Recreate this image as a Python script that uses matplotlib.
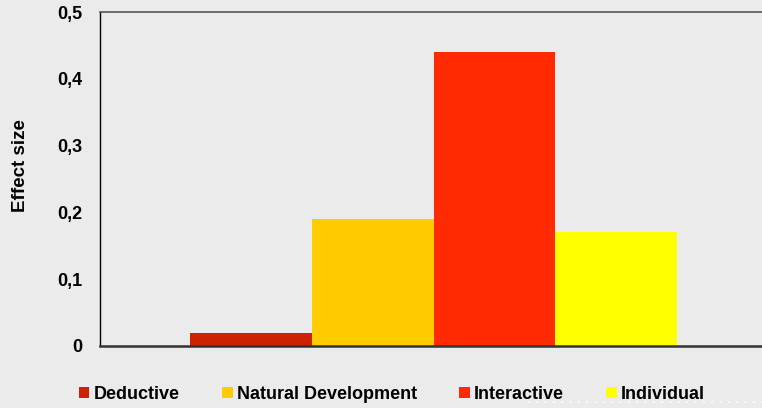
import matplotlib.pyplot as plt
from matplotlib.lines import Line2D
from matplotlib.ticker import FuncFormatter

# Effect sizes by instruction type
series = ['Deductive', 'Natural Development', 'Interactive', 'Individual']
effect_size = [0.02, 0.19, 0.44, 0.17]
colors = ['#CC2200', '#FFCC00', '#FF2A00', '#FFFF00']
yticks = [0, 0.1, 0.2, 0.3, 0.4, 0.5]

plt.rcParams['font.family'] = ['Liberation Sans', 'DejaVu Sans']
bg = '#EBEBEB'

fig = plt.figure(figsize=(7.62, 4.08), dpi=100, facecolor=bg)
ax = fig.add_axes([100 / 762, 62 / 408, 667 / 762, 334 / 408], facecolor=bg)

width = 0.1823
offsets = [-1.5, -0.5, 0.5, 1.5]
for name, val, c, off in zip(series, effect_size, colors, offsets):
    ax.bar(off * width, val, width=width, color=c, label=name, linewidth=0)

ax.set_xlim(-0.5, 0.5)
ax.set_ylim(0, 0.5)
ax.set_yticks(yticks)
ax.yaxis.set_major_formatter(FuncFormatter(lambda v, p: '0' if v == 0 else f'{v:.1f}'.replace('.', ',')))
ax.set_xticks([])
ax.tick_params(axis='y', length=0, pad=13, labelsize=13)
for lab in ax.get_yticklabels():
    lab.set_fontweight('bold')

ax.spines['right'].set_visible(False)
ax.spines['left'].set_color('black')
ax.spines['left'].set_linewidth(1.0)
ax.spines['bottom'].set_color('#333333')
ax.spines['bottom'].set_linewidth(1.8)
ax.spines['top'].set_color('#555555')
ax.spines['top'].set_linewidth(1.2)

ax.set_ylabel('Effect size', fontsize=13.5, fontweight='bold')
ax.yaxis.set_label_coords(-0.107, 0.54)

leg = ax.legend(loc='center left', bbox_to_anchor=(-0.043, -0.145), ncol=4, frameon=False,
                prop={'size': 13, 'weight': 'bold'}, handlelength=0.6, handleheight=0.6,
                handletextpad=0.22, columnspacing=2.35, borderaxespad=0)

# faint dotted line in the lower right corner
fig.add_artist(Line2D([528 / 762, 1], [6 / 408, 6 / 408], transform=fig.transFigure,
                      color='white', linestyle=(0, (1, 4)), linewidth=1.2))

fig.savefig('out.png', dpi=100, facecolor=bg)
plt.close()
